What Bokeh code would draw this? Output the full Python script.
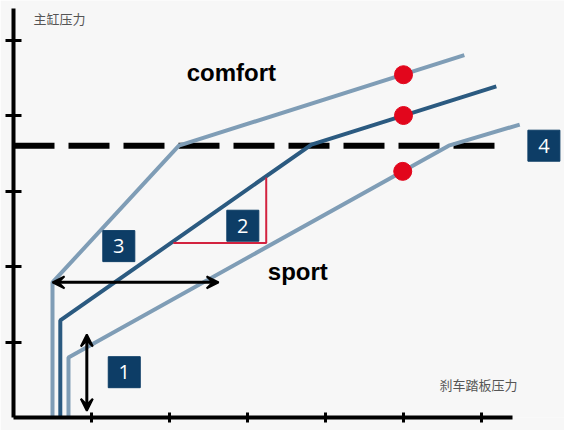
from bokeh.plotting import figure
from bokeh.models import Range1d, FixedTicker, Label, Arrow, VeeHead, CustomJSTickFormatter
from bokeh.core.properties import value
from bokeh.embed import file_html
from bokeh.resources import INLINE

# curves (pedal force -> master cylinder pressure)
comfort_x = [0.5, 0.5, 2.12, 5.78]
comfort_y = [0.0, 1.79, 3.60, 4.80]
middle_x = [0.6, 0.6, 3.82, 6.19]
middle_y = [0.0, 1.285, 3.615, 4.385]
sport_x = [0.705, 0.705, 5.58, 6.49]
sport_y = [0.0, 0.795, 3.60, 3.88]

# red marker points
dot_x = [5.0, 5.0, 4.99]
dot_y = [4.54, 4.0, 3.26]

threshold_y = 3.60
threshold_x_end = 6.19

# red triangle
tri_x = [2.05, 3.24, 3.24]
tri_y = [2.31, 2.31, 3.18]

# numbered boxes
box_x = [1.42, 2.94, 1.35, 6.80]
box_y = [0.60, 2.54, 2.27, 3.60]
box_labels = ["1", "2", "3", "4"]

# arrows
harrow_x = [0.5, 2.63]
harrow_y = 1.79
varrow_x = 0.94
varrow_y = [1.10, 0.09]

x_ticks = [1, 2, 3, 4, 5, 6]
y_ticks = [1, 2, 3, 4, 5]

LIGHT = "#7f9db6"
DARK = "#2b5a80"
NAVY = "#0d3d66"
RED = "#e2061c"
BG = "#f7f7f7"

p = figure(width=564, height=430, output_backend="svg", toolbar_location=None,
           x_range=Range1d(0, 551 / 78), y_range=Range1d(0, 417 / 75.5),
           min_border_left=13, min_border_bottom=13, min_border_top=0, min_border_right=0,
           background_fill_color=BG, border_fill_color=BG, outline_line_color=None)
p.grid.visible = False

blank = CustomJSTickFormatter(code="return ''")
for ax in (p.xaxis[0], p.yaxis[0]):
    ax.axis_line_width = 4
    ax.axis_line_color = "black"
    ax.major_tick_line_width = 3
    ax.major_tick_line_color = "black"
    ax.minor_tick_line_color = None
    ax.formatter = blank
    ax.major_label_standoff = 0
p.xaxis[0].ticker = FixedTicker(ticks=x_ticks)
p.yaxis[0].ticker = FixedTicker(ticks=y_ticks)
p.xaxis[0].major_tick_in = 5
p.xaxis[0].major_tick_out = 5
p.yaxis[0].major_tick_in = 8
p.yaxis[0].major_tick_out = 8
p.xaxis[0].bounds = (0, 6.40)
p.yaxis[0].bounds = (0, 5.417)

# threshold dashed line
p.line([0, threshold_x_end], [threshold_y, threshold_y], line_color="black",
       line_width=6, line_dash="41 14")

p.line(comfort_x, comfort_y, line_color=LIGHT, line_width=4)
p.line(sport_x, sport_y, line_color=LIGHT, line_width=4)
p.line(middle_x, middle_y, line_color=DARK, line_width=4)

p.line(tri_x, tri_y, line_color="#d3233f", line_width=2)

p.scatter(dot_x, dot_y, size=18, fill_color=RED, line_color=RED)

# arrows
p.add_layout(Arrow(x_start=harrow_x[0], y_start=harrow_y, x_end=harrow_x[1], y_end=harrow_y,
                   line_width=3, line_color="black",
                   start=VeeHead(size=12, fill_color="black", line_color="black", line_width=2),
                   end=VeeHead(size=12, fill_color="black", line_color="black", line_width=2)))
p.add_layout(Arrow(x_start=varrow_x, y_start=varrow_y[0], x_end=varrow_x, y_end=varrow_y[1],
                   line_width=3, line_color="black",
                   start=VeeHead(size=12, fill_color="black", line_color="black", line_width=2),
                   end=VeeHead(size=12, fill_color="black", line_color="black", line_width=2)))

# boxes
p.rect(box_x, box_y, width=32, height=31, width_units="screen", height_units="screen",
       fill_color=NAVY, line_color=NAVY)
p.text(box_x, box_y, text=box_labels, text_color="white", text_align="center",
       text_baseline="middle", text_font=value("Open Sans"), text_font_size="20px")

# labels
p.add_layout(Label(x=2.22, y=4.57, text="comfort", text_font="Liberation Sans",
                   text_font_style="bold", text_font_size="24px", text_color="black",
                   text_baseline="alphabetic"))
p.add_layout(Label(x=3.26, y=1.934, text="sport", text_font="Liberation Sans",
                   text_font_style="bold", text_font_size="24px", text_color="black",
                   text_baseline="alphabetic"))
p.add_layout(Label(x=0.256, y=5.285, text="主缸压力", text_font="Noto Sans CJK SC",
                   text_font_size="13px", text_color="#555555", text_baseline="middle"))
p.add_layout(Label(x=5.46, y=0.437, text="刹车踏板压力", text_font="Noto Sans CJK SC",
                   text_font_size="13px", text_color="#555555", text_baseline="middle"))

open("out.html", "w").write(file_html(p, INLINE))
